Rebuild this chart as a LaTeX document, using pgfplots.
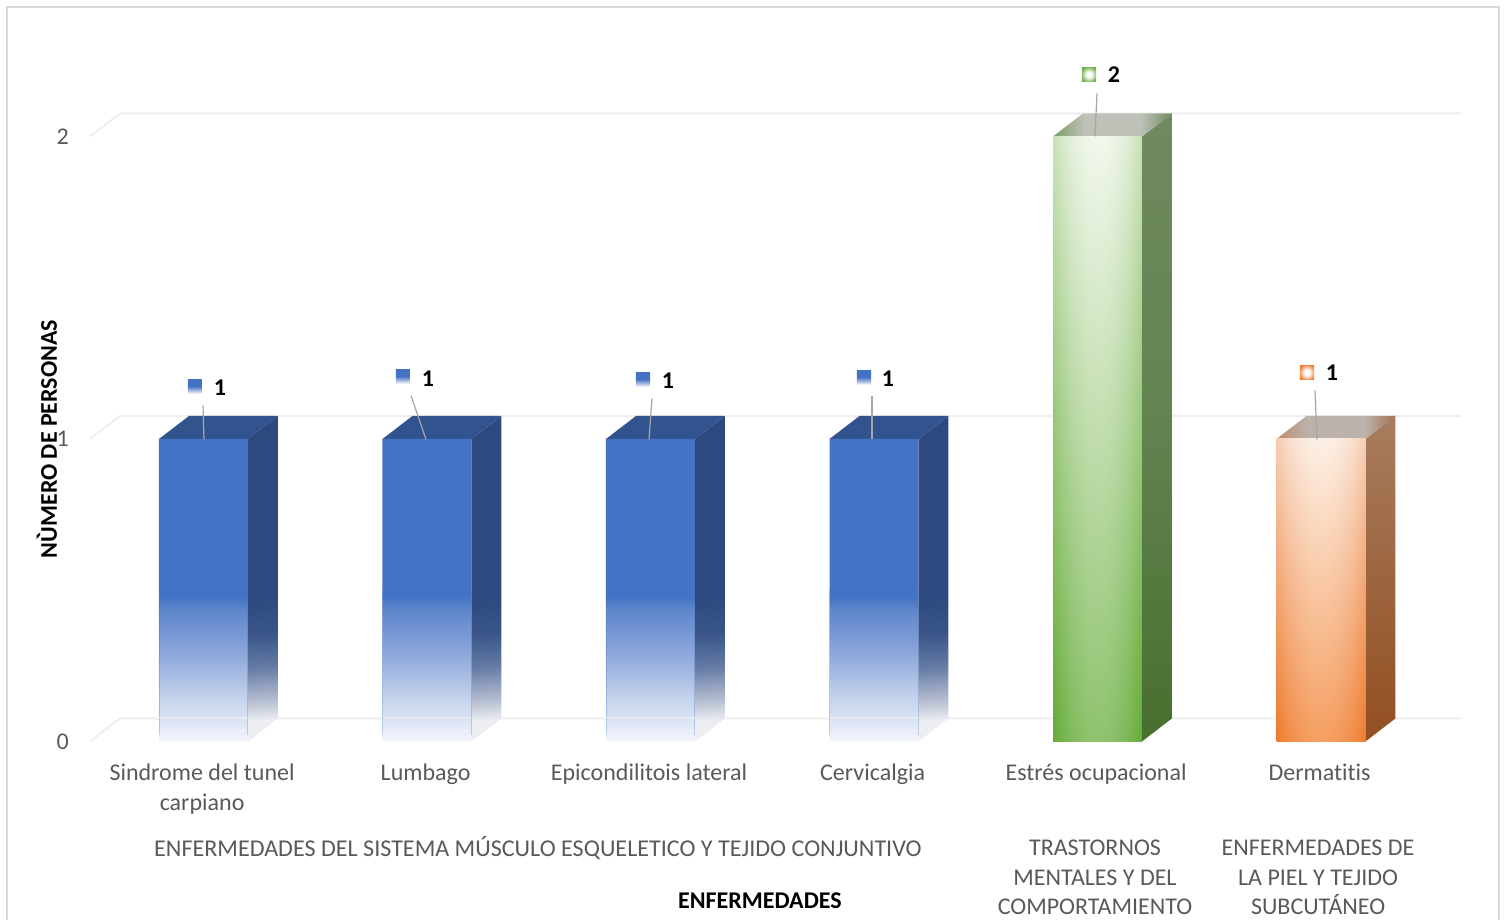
\documentclass[border=0pt]{standalone}
\usepackage{fontspec}
\usepackage{pgfplots}
\pgfplotsset{compat=1.18}
\setmainfont[Ligatures=NoCommon]{Carlito}

\definecolor{gridc}{HTML}{EFEFEF}
\definecolor{framec}{HTML}{D9D9D9}
\definecolor{textc}{HTML}{595959}
\definecolor{leader}{HTML}{A6A6A6}
\definecolor{azul}{HTML}{4472C4}
\definecolor{azulA}{HTML}{F3F5FB}
\definecolor{azulB}{HTML}{C5D3EC}
\definecolor{azulC}{HTML}{8AA5DA}
\definecolor{azulD}{HTML}{5F86CC}
\definecolor{azulTop}{HTML}{31548F}
\definecolor{ladoA}{HTML}{ECEEF3}
\definecolor{ladoB}{HTML}{BFC6D6}
\definecolor{ladoC}{HTML}{667CA6}
\definecolor{ladoD}{HTML}{3A5588}
\definecolor{ladoE}{HTML}{2C4A80}
\definecolor{verdeLow}{HTML}{476F2E}
\definecolor{verdeMid}{HTML}{628350}
\definecolor{verdeUp}{HTML}{708A60}
\definecolor{verdeTopL}{HTML}{7C9A68}
\definecolor{verdeTopM}{HTML}{BDC1B8}
\definecolor{verdeTopR}{HTML}{6E8C5C}
\definecolor{verdeKey}{HTML}{70AD47}
\definecolor{naranjaLow}{HTML}{934F20}
\definecolor{naranjaUp}{HTML}{A77C5F}
\definecolor{naranjaTopL}{HTML}{BE8C6A}
\definecolor{naranjaTopM}{HTML}{BBB2AB}
\definecolor{naranjaTopR}{HTML}{A5714F}
\definecolor{naranjaKey}{HTML}{ED7D31}

\pgfdeclareverticalshading{azulfront}{100bp}{color(0bp)=(azulA); color(25bp)=(azulA); color(32bp)=(azulB); color(40bp)=(azulC); color(46.7bp)=(azulD); color(49bp)=(azul); color(100bp)=(azul)}
% used with a small shading angle, so that the fade follows the slant of the face
\pgfdeclareverticalshading{azulside}{100bp}{color(0bp)=(ladoA); color(26.8bp)=(ladoA); color(29.5bp)=(ladoB); color(35.5bp)=(ladoC); color(41bp)=(ladoD); color(47bp)=(ladoE); color(100bp)=(ladoE)}
\pgfdeclareverticalshading{verdeside}{100bp}{color(0bp)=(verdeLow); color(25bp)=(verdeLow); color(50bp)=(verdeMid); color(75bp)=(verdeUp); color(100bp)=(verdeUp)}
\pgfdeclareverticalshading{naranjaside}{100bp}{color(0bp)=(naranjaLow); color(25bp)=(naranjaLow); color(75bp)=(naranjaUp); color(100bp)=(naranjaUp)}
\pgfdeclarehorizontalshading{verdetop}{100bp}{color(0bp)=(verdeTopL); color(25bp)=(verdeTopL); color(38bp)=(verdeTopM); color(62bp)=(verdeTopM); color(75bp)=(verdeTopR); color(100bp)=(verdeTopR)}
\pgfdeclarehorizontalshading{naranjatop}{100bp}{color(0bp)=(naranjaTopL); color(25bp)=(naranjaTopL); color(38bp)=(naranjaTopM); color(62bp)=(naranjaTopM); color(75bp)=(naranjaTopR); color(100bp)=(naranjaTopR)}
\pgfdeclareradialshading{verdekey}{\pgfpointorigin}{color(0bp)=(white); color(9bp)=(white); color(30bp)=(verdeKey); color(50bp)=(verdeKey)}
\pgfdeclareradialshading{naranjakey}{\pgfpointorigin}{color(0bp)=(white); color(9bp)=(white); color(30bp)=(naranjaKey); color(50bp)=(naranjaKey)}
% front faces of green and orange: light centre, darker edges and bottom
\pgfdeclarefunctionalshading{verdefront}{\pgfpointorigin}{\pgfpoint{100bp}{100bp}}{}{
  25 sub 50 div exch 50 sub abs 25 div dup mul
  2 copy -0.17 mul exch 0.39 mul add 0.56 add 3 1 roll
  2 copy -0.09 mul exch 0.21 mul add 0.76 add 3 1 roll
  -0.22 mul exch 0.50 mul add 0.43 add
}
\pgfdeclarefunctionalshading{naranjafront}{\pgfpointorigin}{\pgfpoint{100bp}{100bp}}{}{
  25 sub 50 div exch 50 sub abs 25 div dup mul
  2 copy -0.03 mul exch 0.03 mul add 0.96 add 3 1 roll
  2 copy -0.14 mul exch 0.32 mul add 0.62 add 3 1 roll
  -0.20 mul exch 0.52 mul add 0.38 add
}

\begin{document}
\begin{tikzpicture}
\begin{axis}[
    scale only axis,
    width=685.5pt,
    height=302.5pt,
    xmin=-0.508, xmax=5.626,
    ymin=0, ymax=2,
    clip=false,
    unbounded coords=jump,
    axis x line*=bottom,
    axis y line*=left,
    axis line style={draw=none},
    major tick length=0pt,
    xtick={0,1,2,3,4,5},
    xticklabels={{Sindrome del tunel\\carpiano},Lumbago,Epicondilitois lateral,Cervicalgia,Estrés ocupacional,Dermatitis},
    x tick label style={align=center, anchor=north, xshift=-0.7pt, yshift=-7.5pt,
        font=\fontsize{12}{15}\selectfont, text=textc},
    ytick={0,1,2},
    y tick label style={font=\fontsize{12}{14}\selectfont, text=textc, xshift=-7pt},
    /pgf/number format/assume math mode=true,
    xlabel={ENFERMEDADES},
    xlabel style={at={(axis description cs:0.4887,-0.263)}, anchor=center,
        font=\fontsize{12}{14}\selectfont\bfseries, text=black},
    ylabel={NÙMERO DE PERSONAS},
    ylabel style={at={(axis description cs:-0.0314,0.5)}, anchor=center,
        font=\fontsize{12}{14}\selectfont\bfseries, text=black},
]
% outer frame
\addplot[framec, line width=1pt] coordinates {(-0.8792,-0.5917) (-0.8792,2.4264) (5.7964,2.4264) (5.7964,-0.5917)};
% back wall and side wall lines
\addplot[gridc, line width=1pt] coordinates {(-0.508,0) (-0.374,0.076) (5.626,0.076)};
\addplot[gridc, line width=1pt] coordinates {(-0.508,1) (-0.374,1.076) (5.626,1.076)};
\addplot[gridc, line width=1pt] coordinates {(-0.508,2) (-0.374,2.076) (5.626,2.076)};

% side faces
\addplot[draw=none, shade, shading=azulside, shading angle=4.06] coordinates {(0.199,0) (0.333,0.076) (0.333,1.076) (0.199,1)} --cycle;
\addplot[draw=none, shade, shading=azulside, shading angle=4.06] coordinates {(1.199,0) (1.333,0.076) (1.333,1.076) (1.199,1)} --cycle;
\addplot[draw=none, shade, shading=azulside, shading angle=4.06] coordinates {(2.199,0) (2.333,0.076) (2.333,1.076) (2.199,1)} --cycle;
\addplot[draw=none, shade, shading=azulside, shading angle=4.06] coordinates {(3.199,0) (3.333,0.076) (3.333,1.076) (3.199,1)} --cycle;
\addplot[draw=none, shade, shading=verdeside] coordinates {(4.199,0) (4.333,0.076) (4.333,2.076) (4.199,2)} --cycle;
\addplot[draw=none, shade, shading=naranjaside] coordinates {(5.199,0) (5.333,0.076) (5.333,1.076) (5.199,1)} --cycle;
% top faces
\addplot[draw=none, fill=azulTop] coordinates {(-0.199,1) (-0.065,1.076) (0.333,1.076) (0.199,1)} --cycle;
\addplot[draw=none, fill=azulTop] coordinates {(0.801,1) (0.935,1.076) (1.333,1.076) (1.199,1)} --cycle;
\addplot[draw=none, fill=azulTop] coordinates {(1.801,1) (1.935,1.076) (2.333,1.076) (2.199,1)} --cycle;
\addplot[draw=none, fill=azulTop] coordinates {(2.801,1) (2.935,1.076) (3.333,1.076) (3.199,1)} --cycle;
\addplot[draw=none, shade, shading=verdetop] coordinates {(3.801,2) (3.935,2.076) (4.333,2.076) (4.199,2)} --cycle;
\addplot[draw=none, shade, shading=naranjatop] coordinates {(4.801,1) (4.935,1.076) (5.333,1.076) (5.199,1)} --cycle;
% front faces
\addplot[ybar, bar width=44.5pt, bar shift=0pt, draw=none, shade, shading=azulfront] coordinates {(0,1) (1,1) (2,1) (3,1)};
\addplot[ybar, bar width=44.5pt, bar shift=0pt, draw=none, shade, shading=verdefront] coordinates {(4,2)};
\addplot[ybar, bar width=44.5pt, bar shift=0pt, draw=none, shade, shading=naranjafront] coordinates {(5,1)};
% faint edges of the blue fronts and the floor line seen through them
\addplot[azul, draw opacity=0.3, line width=0.5pt] coordinates {(-0.199,0.02) (-0.199,0.5) (nan,nan) (0.199,0.02) (0.199,0.5) (nan,nan) (0.801,0.02) (0.801,0.5) (nan,nan) (1.199,0.02) (1.199,0.5) (nan,nan) (1.801,0.02) (1.801,0.5) (nan,nan) (2.199,0.02) (2.199,0.5) (nan,nan) (2.801,0.02) (2.801,0.5) (nan,nan) (3.199,0.02) (3.199,0.5)};
\addplot[gridc, draw opacity=0.6, line width=1pt] coordinates {(-0.199,0.076) (0.199,0.076) (nan,nan) (0.801,0.076) (1.199,0.076) (nan,nan) (1.801,0.076) (2.199,0.076) (nan,nan) (2.801,0.076) (3.199,0.076)};

% leader lines
\addplot[leader, line width=0.6pt] coordinates {(-0.0022,1.1107) (0.0022,0.9983)};
\addplot[leader, line width=0.6pt] coordinates {(0.9284,1.1438) (0.9955,0.9983)};
\addplot[leader, line width=0.6pt] coordinates {(2.0067,1.1339) (1.9933,0.9983)};
\addplot[leader, line width=0.6pt] coordinates {(2.9911,1.1405) (2.9911,0.9983)};
\addplot[leader, line width=0.6pt] coordinates {(3.9978,2.1421) (3.9888,2.0)};
\addplot[leader, line width=0.6pt] coordinates {(4.9732,1.1603) (4.9821,0.9983)};
% legend keys of the data labels
\addplot[draw=none, shade, shading=azulfront] coordinates {(-0.0694,1.1967) (-0.0067,1.1967) (-0.0067,1.1504) (-0.0694,1.1504)} --cycle;
\addplot[draw=none, shade, shading=azulfront] coordinates {(0.8613,1.2298) (0.9239,1.2298) (0.9239,1.1835) (0.8613,1.1835)} --cycle;
\addplot[draw=none, shade, shading=azulfront] coordinates {(1.9351,1.2198) (1.9978,1.2198) (1.9978,1.1736) (1.9351,1.1736)} --cycle;
\addplot[draw=none, shade, shading=azulfront] coordinates {(2.9239,1.2264) (2.9866,1.2264) (2.9866,1.1802) (2.9239,1.1802)} --cycle;
\addplot[draw=none, shade, shading=verdekey] coordinates {(3.9306,2.2281) (3.9933,2.2281) (3.9933,2.1818) (3.9306,2.1818)} --cycle;
\addplot[draw=none, shade, shading=naranjakey] coordinates {(4.9060,1.2430) (4.9687,1.2430) (4.9687,1.1967) (4.9060,1.1967)} --cycle;

% data labels
\tikzset{dato/.style={font=\fontsize{12}{14}\selectfont\bfseries, text=black, inner sep=0pt}}
\node[dato] at (axis cs:0.0738,1.1702) {1};
\node[dato] at (axis cs:1.0045,1.2) {1};
\node[dato] at (axis cs:2.0783,1.1934) {1};
\node[dato] at (axis cs:3.0626,1.2) {1};
\node[dato] at (axis cs:4.0738,2.2050) {2};
\node[dato] at (axis cs:5.0492,1.2198) {1};

% group labels, second level of the category axis
\tikzset{grupo/.style={font=\fontsize{12}{14.8}\selectfont, text=textc, align=center, anchor=north, inner sep=0pt}}
\node[grupo] at (axis cs:1.4966,-0.3115) {\fontsize{12.05}{14.8}\selectfont ENFERMEDADES DEL SISTEMA MÚSCULO ESQUELETICO Y TEJIDO CONJUNTIVO};
\node[grupo] at (axis cs:3.989,-0.325) {TRASTORNOS\\MENTALES Y DEL\\COMPORTAMIENTO};
\node[grupo] at (axis cs:4.987,-0.325) {ENFERMEDADES DE\\LA PIEL Y TEJIDO\\SUBCUTÁNEO};

\coordinate (sw) at (axis cs:-0.9105,-0.5901);
\coordinate (ne) at (axis cs:5.8233,2.4512);
\end{axis}
\pgfresetboundingbox
\path[use as bounding box] (sw) rectangle (ne);
\end{tikzpicture}
\end{document}
